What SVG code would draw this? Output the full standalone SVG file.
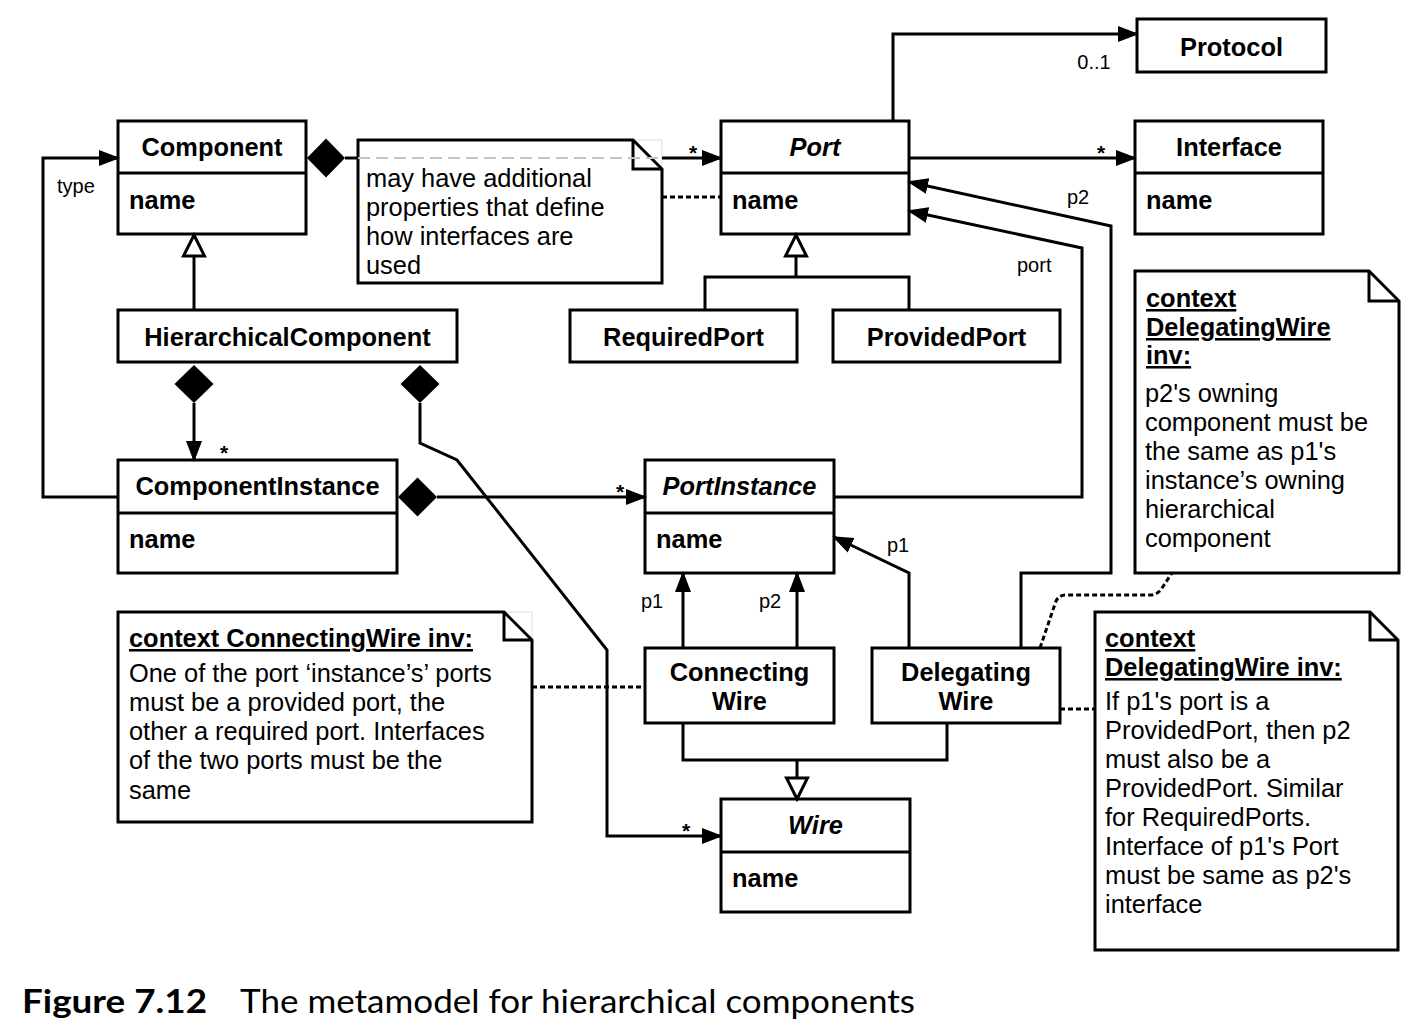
<svg xmlns="http://www.w3.org/2000/svg" width="1426" height="1030" viewBox="0 0 1426 1030">
<style>
.box{fill:#fff;stroke:#000;stroke-width:3}
.ln{fill:none;stroke:#000;stroke-width:3}
.dot{fill:none;stroke:#000;stroke-width:3;stroke-dasharray:5 3}
.gdash{fill:none;stroke:#c4c4c4;stroke-width:2;stroke-dasharray:12 6}
.faint{fill:none;stroke:#dcdcdc;stroke-width:1}
.t{font-family:"Liberation Sans",Arial,Helvetica,sans-serif;font-size:25.4px;fill:#000}
.b{font-weight:bold}
.i{font-style:italic}
.u{text-decoration:underline}
.lbl{font-family:"Liberation Sans",Arial,Helvetica,sans-serif;font-size:20px;fill:#000}
.ast{font-family:"Liberation Sans",Arial,Helvetica,sans-serif;font-size:21px;font-weight:bold;fill:#000}
.dia{fill:#000;stroke:none}
.hol{fill:#fff;stroke:#000;stroke-width:3}
.cap{font-family:Lato,"Open Sans",sans-serif;font-size:33px;fill:#000}
</style>
<defs>
<marker id="arr" markerUnits="userSpaceOnUse" markerWidth="22" markerHeight="18" viewBox="0 0 22 18" refX="19" refY="9" orient="auto">
<path d="M0,1 L21,9 L0,17 z" fill="#000"/>
</marker>
</defs>
<rect width="1426" height="1030" fill="#fff"/>

<g id="nodes">
<g id="component">
<rect class="box" x="118" y="121" width="188" height="113"/>
<line class="ln" x1="118" y1="173" x2="306" y2="173"/>
<text class="t b" x="212" y="156" text-anchor="middle">Component</text>
<text class="t b" x="129" y="209">name</text>
</g>
<g id="hierarchicalcomponent">
<rect class="box" x="118" y="310" width="339" height="52"/>
<text class="t b" x="287.5" y="346" text-anchor="middle">HierarchicalComponent</text>
</g>
<g id="componentinstance">
<rect class="box" x="118" y="460" width="279" height="113"/>
<line class="ln" x1="118" y1="513" x2="397" y2="513"/>
<text class="t b" x="257.5" y="495" text-anchor="middle">ComponentInstance</text>
<text class="t b" x="129" y="548">name</text>
</g>
<g id="port">
<rect class="box" x="721" y="121" width="188" height="113"/>
<line class="ln" x1="721" y1="173" x2="909" y2="173"/>
<text class="t b i" x="815" y="156" text-anchor="middle">Port</text>
<text class="t b" x="732" y="209">name</text>
</g>
<g id="protocol">
<rect class="box" x="1137" y="19" width="189" height="53"/>
<text class="t b" x="1231.5" y="56" text-anchor="middle">Protocol</text>
</g>
<g id="interface">
<rect class="box" x="1135" y="121" width="188" height="113"/>
<line class="ln" x1="1135" y1="173" x2="1323" y2="173"/>
<text class="t b" x="1229" y="156" text-anchor="middle">Interface</text>
<text class="t b" x="1146" y="209">name</text>
</g>
<g id="requiredport">
<rect class="box" x="570" y="310" width="227" height="52"/>
<text class="t b" x="683.5" y="346" text-anchor="middle">RequiredPort</text>
</g>
<g id="providedport">
<rect class="box" x="833" y="310" width="227" height="52"/>
<text class="t b" x="946.5" y="346" text-anchor="middle">ProvidedPort</text>
</g>
<g id="portinstance">
<rect class="box" x="645" y="460" width="189" height="113"/>
<line class="ln" x1="645" y1="513" x2="834" y2="513"/>
<text class="t b i" x="739.5" y="495" text-anchor="middle">PortInstance</text>
<text class="t b" x="656" y="548">name</text>
</g>
<g id="connectingwire">
<rect class="box" x="645" y="648" width="189" height="75"/>
<text class="t b" x="739.5" y="681" text-anchor="middle">Connecting</text>
<text class="t b" x="739.5" y="710" text-anchor="middle">Wire</text>
</g>
<g id="delegatingwire">
<rect class="box" x="872" y="648" width="188" height="75"/>
<text class="t b" x="966" y="681" text-anchor="middle">Delegating</text>
<text class="t b" x="966" y="710" text-anchor="middle">Wire</text>
</g>
<g id="wire">
<rect class="box" x="721" y="799" width="189" height="113"/>
<line class="ln" x1="721" y1="852" x2="910" y2="852"/>
<text class="t b i" x="815.5" y="834" text-anchor="middle">Wire</text>
<text class="t b" x="732" y="887">name</text>
</g>

<g id="note-port">
<path class="faint" d="M633,140 L662,140 L662,169"/>
<path class="box" d="M358,140 L633,140 L662,169 L662,283 L358,283 Z"/>
<path class="ln" d="M633,140 L633,169 L662,169"/>
<text class="t" x="366" y="187">may have additional</text>
<text class="t" x="366" y="216">properties that define</text>
<text class="t" x="366" y="245">how interfaces are</text>
<text class="t" x="366" y="274">used</text>
</g>
<g id="note-connectingwire">
<path class="faint" d="M504,612 L532,612 L532,640"/>
<path class="box" d="M118,612 L504,612 L532,640 L532,822 L118,822 Z"/>
<path class="ln" d="M504,612 L504,640 L532,640"/>
<text class="t b u" x="129" y="647">context ConnectingWire inv:</text>
<text class="t" x="129" y="682">One of the port ‘instance’s’ ports</text>
<text class="t" x="129" y="711">must be a provided port, the</text>
<text class="t" x="129" y="740">other a required port. Interfaces</text>
<text class="t" x="129" y="769">of the two ports must be the</text>
<text class="t" x="129" y="799">same</text>
</g>
<g id="note-delegatingwire-1">
<path class="box" d="M1135,271 L1369,271 L1399,301 L1399,573 L1135,573 Z"/>
<path class="ln" d="M1369,271 L1369,301 L1399,301"/>
<text class="t b u" x="1146" y="307">context</text>
<text class="t b u" x="1146" y="336">DelegatingWire</text>
<text class="t b u" x="1146" y="364">inv:</text>
<text class="t" x="1145" y="402">p2's owning</text>
<text class="t" x="1145" y="431">component must be</text>
<text class="t" x="1145" y="460">the same as p1's</text>
<text class="t" x="1145" y="489">instance’s owning</text>
<text class="t" x="1145" y="518">hierarchical</text>
<text class="t" x="1145" y="547">component</text>
</g>
<g id="note-delegatingwire-2">
<path class="box" d="M1095,612 L1370,612 L1398,640 L1398,950 L1095,950 Z"/>
<path class="ln" d="M1370,612 L1370,640 L1398,640"/>
<text class="t b u" x="1105" y="647">context</text>
<text class="t b u" x="1105" y="676">DelegatingWire inv:</text>
<text class="t" x="1105" y="710">If p1's port is a</text>
<text class="t" x="1105" y="739">ProvidedPort, then p2</text>
<text class="t" x="1105" y="768">must also be a</text>
<text class="t" x="1105" y="797">ProvidedPort. Similar</text>
<text class="t" x="1105" y="826">for RequiredPorts.</text>
<text class="t" x="1105" y="855">Interface of p1's Port</text>
<text class="t" x="1105" y="884">must be same as p2's</text>
<text class="t" x="1105" y="913">interface</text>
</g>
</g>

<g id="connectors">
<polygon class="dia" points="307,158 326,138.5 345,158 326,177.5"/>
<line class="ln" x1="345" y1="158" x2="358" y2="158"/>
<line class="gdash" x1="358" y1="158" x2="662" y2="158"/>
<line class="ln" x1="662" y1="158" x2="721" y2="158" marker-end="url(#arr)"/>
<text class="ast" x="693" y="160" text-anchor="middle">*</text>
<line class="dot" x1="662" y1="197" x2="721" y2="197"/>

<path class="ln" d="M118,497 L43,497 L43,158 L118,158" marker-end="url(#arr)"/>
<text class="lbl" x="57" y="193">type</text>

<line class="ln" x1="194" y1="310" x2="194" y2="256"/>
<polygon class="hol" points="194,235 204.5,256 183.5,256"/>

<polygon class="dia" points="194,365 213.5,384 194,403 174.5,384"/>
<line class="ln" x1="194" y1="403" x2="194" y2="460" marker-end="url(#arr)"/>
<text class="ast" x="224" y="460" text-anchor="middle">*</text>

<polygon class="dia" points="420,365 439.5,384 420,403 400.5,384"/>
<path class="ln" d="M420,403 L420,443 L457,460 L607,650 L607,836 L721,836" marker-end="url(#arr)"/>
<text class="ast" x="686" y="838" text-anchor="middle">*</text>

<polygon class="dia" points="398,497 417.5,477.5 437,497 417.5,516.5"/>
<line class="ln" x1="437" y1="497" x2="645" y2="497" marker-end="url(#arr)"/>
<text class="ast" x="620" y="499" text-anchor="middle">*</text>

<path class="ln" d="M834,497 L1082,497 L1082,248 L909,211" marker-end="url(#arr)"/>
<text class="lbl" x="1017" y="272">port</text>

<path class="ln" d="M1021,648 L1021,573 L1111,573 L1111,226 L909,182" marker-end="url(#arr)"/>
<text class="lbl" x="1067" y="204">p2</text>

<path class="ln" d="M893,121 L893,34 L1137,34" marker-end="url(#arr)"/>
<text class="lbl" x="1094" y="69" text-anchor="middle">0..1</text>

<line class="ln" x1="909" y1="158" x2="1135" y2="158" marker-end="url(#arr)"/>
<text class="ast" x="1101" y="160" text-anchor="middle">*</text>

<path class="ln" d="M796,256 L796,277 M705,310 L705,277 L909,277 L909,310"/>
<polygon class="hol" points="796,235 806.5,256 785.5,256"/>

<line class="ln" x1="683" y1="648" x2="683" y2="573" marker-end="url(#arr)"/>
<line class="ln" x1="797" y1="648" x2="797" y2="573" marker-end="url(#arr)"/>
<text class="lbl" x="652" y="608" text-anchor="middle">p1</text>
<text class="lbl" x="770" y="608" text-anchor="middle">p2</text>

<path class="ln" d="M909,648 L909,573 L834,537" marker-end="url(#arr)"/>
<text class="lbl" x="898" y="552" text-anchor="middle">p1</text>

<path class="ln" d="M683,723 L683,760 L947,760 L947,723 M797,760 L797,778"/>
<polygon class="hol" points="797,799 807.5,778 786.5,778"/>

<line class="dot" x1="532" y1="687" x2="645" y2="687"/>
<line class="dot" x1="1060" y1="709" x2="1095" y2="709"/>
<path class="dot" d="M1040,648 L1056,601 Q1059,595 1066,595 L1150,595 Q1158,595 1162,588 L1172,573"/>
</g>

<g id="caption">
<text class="cap" x="22" y="1013" font-weight="bold" textLength="185" lengthAdjust="spacingAndGlyphs">Figure 7.12</text>
<text class="cap" x="240" y="1013" textLength="675" lengthAdjust="spacingAndGlyphs">The metamodel for hierarchical components</text>
</g>
</svg>
